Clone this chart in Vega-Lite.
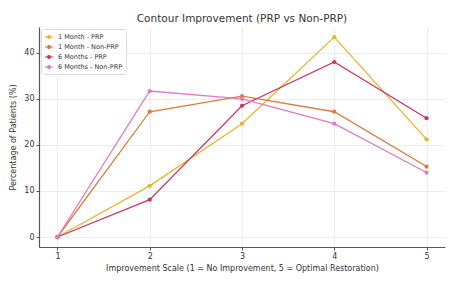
{
  "$schema": "https://vega.github.io/schema/vega-lite/v6.json",
  "width": 406,
  "height": 220,
  "autosize": {"type": "none"},
  "padding": {"left": 39, "top": 27, "right": 21, "bottom": 45},
  "background": "white",
  "title": {"text": "Contour Improvement (PRP vs Non-PRP)", "font": "DejaVu Sans", "fontSize": 10.5, "fontWeight": "normal", "color": "#333333", "offset": 3, "anchor": "middle"},
  "config": {"view": {"stroke": null}},
  "data": {"values": [
    {"scale": 1, "pct": 0, "group": "1 Month - PRP"},
    {"scale": 2, "pct": 11.1, "group": "1 Month - PRP"},
    {"scale": 3, "pct": 24.6, "group": "1 Month - PRP"},
    {"scale": 4, "pct": 43.4, "group": "1 Month - PRP"},
    {"scale": 5, "pct": 21.2, "group": "1 Month - PRP"},
    {"scale": 1, "pct": 0, "group": "1 Month - Non-PRP"},
    {"scale": 2, "pct": 27.2, "group": "1 Month - Non-PRP"},
    {"scale": 3, "pct": 30.6, "group": "1 Month - Non-PRP"},
    {"scale": 4, "pct": 27.2, "group": "1 Month - Non-PRP"},
    {"scale": 5, "pct": 15.3, "group": "1 Month - Non-PRP"},
    {"scale": 1, "pct": 0, "group": "6 Months - PRP"},
    {"scale": 2, "pct": 8.1, "group": "6 Months - PRP"},
    {"scale": 3, "pct": 28.5, "group": "6 Months - PRP"},
    {"scale": 4, "pct": 38.0, "group": "6 Months - PRP"},
    {"scale": 5, "pct": 25.8, "group": "6 Months - PRP"},
    {"scale": 1, "pct": 0, "group": "6 Months - Non-PRP"},
    {"scale": 2, "pct": 31.7, "group": "6 Months - Non-PRP"},
    {"scale": 3, "pct": 30.0, "group": "6 Months - Non-PRP"},
    {"scale": 4, "pct": 24.6, "group": "6 Months - Non-PRP"},
    {"scale": 5, "pct": 14.0, "group": "6 Months - Non-PRP"}
  ]},
  "mark": {"type": "line", "point": {"filled": true, "size": 18}, "strokeWidth": 1.3},
  "encoding": {
    "x": {"field": "scale", "type": "quantitative",
      "scale": {"domain": [0.8, 5.2], "nice": false, "zero": false},
      "axis": {"values": [1, 2, 3, 4, 5], "format": "d", "title": "Improvement Scale (1 = No Improvement, 5 = Optimal Restoration)",
        "titleFont": "DejaVu Sans", "titleFontSize": 8, "titleFontWeight": "normal", "titleColor": "#333333", "titlePadding": 4,
        "labelFont": "DejaVu Sans", "labelFontSize": 8, "labelColor": "#333333", "labelPadding": 2,
        "domainColor": "#555555", "domainWidth": 1.2, "tickColor": "#555555", "tickSize": 3,
        "gridColor": "#e8e8e8", "gridWidth": 0.8}},
    "y": {"field": "pct", "type": "quantitative",
      "scale": {"domain": [-2.17, 45.6], "nice": false, "zero": false},
      "axis": {"values": [0, 10, 20, 30, 40], "title": "Percentage of Patients (%)",
        "titleFont": "DejaVu Sans", "titleFontSize": 8, "titleFontWeight": "normal", "titleColor": "#333333", "titlePadding": 6,
        "labelFont": "DejaVu Sans", "labelFontSize": 8, "labelColor": "#333333", "labelPadding": 2,
        "domainColor": "#555555", "domainWidth": 1.2, "tickColor": "#555555", "tickSize": 3,
        "gridColor": "#e8e8e8", "gridWidth": 0.8}},
    "color": {"field": "group", "type": "nominal",
      "scale": {"domain": ["1 Month - PRP", "1 Month - Non-PRP", "6 Months - PRP", "6 Months - Non-PRP"],
        "range": ["#e8b62a", "#dc7b3c", "#cf3462", "#e07ac6"]},
      "legend": {"title": null, "orient": "none", "legendX": 2, "legendY": 2,
        "labelFont": "DejaVu Sans", "labelFontSize": 6.5, "labelColor": "#333333", "labelOffset": 4,
        "symbolType": "M-1,0L1,0M-0.35,0A0.35,0.35 0 1,0 0.35,0A0.35,0.35 0 1,0 -0.35,0Z",
        "symbolSize": 70, "symbolStrokeWidth": 1.2, "symbolFillColor": null,
        "rowPadding": 1, "padding": 3, "strokeColor": "#dddddd", "fillColor": "white", "cornerRadius": 2}}
  }
}
